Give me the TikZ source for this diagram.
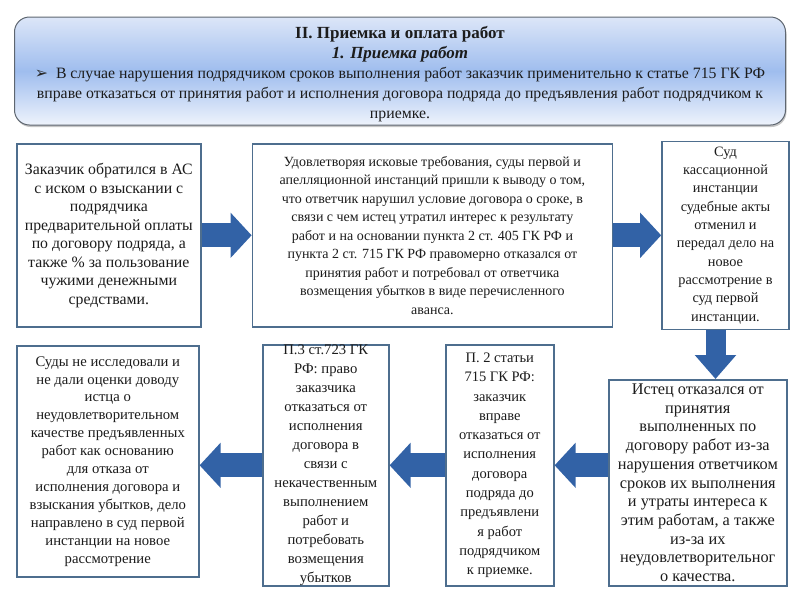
\documentclass[tikz,border=0pt]{standalone}
\usepackage{fontspec}
\setmainfont{Liberation Serif}
\newfontfamily\symfont{DejaVu Sans}
\usepackage{tikz}
\usetikzlibrary{arrows.meta, positioning, shadows, calc}
\definecolor{HeadTop}{HTML}{DCE6F8}
\definecolor{HeadMid}{HTML}{9FBDEE}
\definecolor{HeadBot}{HTML}{EEF3FC}
\definecolor{HeadEdge}{HTML}{5E6670}
\definecolor{BoxEdge}{HTML}{4E6E8E}
\definecolor{ArrowBlue}{HTML}{3262A6}
\definecolor{TextDark}{HTML}{1C1C1C}

\begin{document}
\begin{tikzpicture}[
  x=1pt, y=-1pt,
  header/.style={rectangle, rounded corners=15pt, draw=HeadEdge, line width=1pt,
                 top color=HeadTop, bottom color=HeadBot, middle color=HeadMid,
                 drop shadow={shadow xshift=1pt, shadow yshift=-2pt, fill=black!45},
                 minimum width=771pt, minimum height=108pt},
  headtext/.style={align=center, text=TextDark, inner sep=0pt,
                   font=\fontsize{15.8}{20}\selectfont},
  card/.style={rectangle, draw=BoxEdge, line width=1.6pt, fill=white,
               align=center, inner sep=2pt, text=TextDark,
               font=\fontsize{14}{18.5}\selectfont},
  barr/.style={-{Triangle[width=44pt, length=21pt]}, line width=24pt, ArrowBlue},
  darr/.style={-{Triangle[width=40pt, length=24pt]}, line width=20pt, ArrowBlue},
]
\useasboundingbox (0,0) rectangle (800,600);

% header
\node[header] (head) at (400,71) {};
\node[headtext] (headtxt) at ([yshift=-3pt]head.center)
  {{\fontsize{17}{20}\selectfont\bfseries II. Приемка и оплата работ}\\
   {\fontsize{17}{20}\selectfont\bfseries\itshape 1. Приемка работ}\\
   {\symfont\color{black!85}➢}\ \ В случае нарушения подрядчиком сроков выполнения работ заказчик применительно к статье 715 ГК РФ\\
   вправе отказаться от принятия работ и исполнения договора подряда до предъявления работ подрядчиком к\\
   приемке.};

% upper row
\node[card, anchor=north west, minimum width=184pt, minimum height=183pt,
      font=\fontsize{15.8}{18.5}\selectfont] (claim) at (16,143)
  {Заказчик обратился в АС\\ с иском о взыскании с\\ подрядчика\\ предварительной оплаты\\
   по договору подряда, а\\ также \% за пользование\\ чужими денежными\\ средствами.};
\node[card, right=50pt of claim, minimum width=360pt, minimum height=183pt] (lower)
  {Удовлетворяя исковые требования, суды первой и\\ апелляционной инстанций пришли к выводу о том,\\
   что ответчик нарушил условие договора о сроке, в\\ связи с чем истец утратил интерес к результату\\
   работ и на основании пункта 2 ст. 405 ГК РФ и\\ пункта 2 ст. 715 ГК РФ правомерно отказался от\\
   принятия работ и потребовал от ответчика\\ возмещения убытков в виде перечисленного\\ аванса.};
\node[card, right=48pt of lower, minimum width=127pt, minimum height=188pt,
      font=\fontsize{14.3}{18.3}\selectfont] (cass)
  {Суд\\ кассационной\\ инстанции\\ судебные акты\\ отменил и\\ передал дело на\\ новое\\
   рассмотрение в\\ суд первой\\ инстанции.};

% lower row
\node[card, anchor=north west, minimum width=178pt, minimum height=206pt,
      font=\fontsize{16.3}{18.7}\selectfont] (refuse) at (608,379)
  {Истец отказался от\\ принятия\\ выполненных по\\ договору работ из-за\\ нарушения ответчиком\\
   сроков их выполнения\\ и утраты интереса к\\ этим работам, а также\\ из-за их\\
   неудовлетворительног\\ о качества.};
\node[card, anchor=north west, minimum width=108pt, minimum height=241pt,
      font=\fontsize{14.5}{19.3}\selectfont] (art715) at (445,344)
  {П. 2 статьи\\ 715 ГК РФ:\\ заказчик\\ вправе\\ отказаться от\\ исполнения\\ договора\\
   подряда до\\ предъявлени\\ я работ\\ подрядчиком\\ к приемке.};
\node[card, anchor=north west, minimum width=126pt, minimum height=241pt, inner sep=0pt,
      font=\fontsize{14.7}{19}\selectfont] (art723) at (262,344)
  {П.3 ст.723 ГК\\ РФ: право\\ заказчика\\ отказаться от\\ исполнения\\ договора в\\ связи с\\
   некачественным\\ выполнением\\ работ и\\ потребовать\\ возмещения\\ убытков};
\node[card, anchor=north west, minimum width=182pt, minimum height=231pt,
      font=\fontsize{14.7}{17.9}\selectfont] (review) at (16,345)
  {Суды не исследовали и\\ не дали оценки доводу\\ истца о\\ неудовлетворительном\\
   качестве предъявленных\\ работ как основанию\\ для отказа от\\ исполнения договора и\\
   взыскания убытков, дело\\ направлено в суд первой\\ инстанции на новое\\ рассмотрение};

% arrows
\draw[barr] (claim) -- (lower);
\draw[barr] (lower) -- (cass);
\draw[darr] ([xshift=-10pt]cass.south) -- ([xshift=-10pt]cass.south |- refuse.north);
\draw[barr] (art715.east -| refuse.west) -- (art715.east);
\draw[barr] (art715) -- (art723);
\draw[barr] (art723.west) -- (art723.west -| review.east);

\end{tikzpicture}
\end{document}
